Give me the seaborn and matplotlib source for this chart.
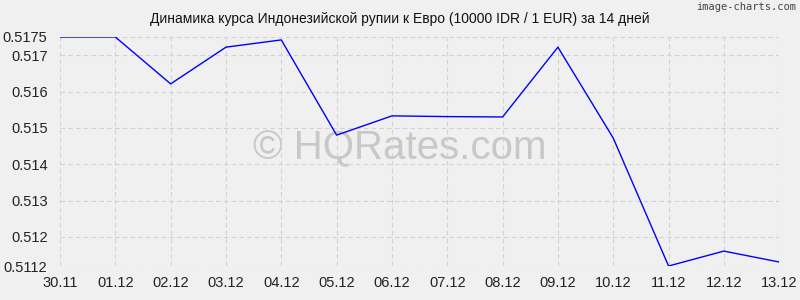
import matplotlib
matplotlib.use("Agg")
import matplotlib.pyplot as plt
import seaborn as sns
import pandas as pd

dates = ["30.11", "01.12", "02.12", "03.12", "04.12", "05.12", "06.12",
         "07.12", "08.12", "09.12", "10.12", "11.12", "12.12", "13.12"]
rates = [0.5175, 0.5175, 0.51621, 0.51722, 0.51742, 0.51480, 0.51533,
         0.51531, 0.51530, 0.51722, 0.51472, 0.5112, 0.51161, 0.51131]
yticks = [0.5112, 0.512, 0.513, 0.514, 0.515, 0.516, 0.517, 0.5175]
ytick_labels = ["0.5112", "0.512", "0.513", "0.514", "0.515", "0.516", "0.517", "0.5175"]
title = "Динамика курса Индонезийской рупии к Евро (10000 IDR / 1 EUR) за 14 дней"

sns.set_theme(style="white")
plt.rcParams['font.family'] = ['Liberation Sans', 'DejaVu Sans']

df = pd.DataFrame({"x": range(len(dates)), "rate": rates})

fig = plt.figure(figsize=(8, 3), dpi=100, facecolor="#f0f0f0")
ax = fig.add_axes([0.075, 0.1133, 0.899, 0.7634])
ax.set_facecolor("#f0f0f0")

sns.lineplot(data=df, x="x", y="rate", ax=ax, color="#0000ff", linewidth=1.0)

ax.set_xlim(0, len(dates) - 1)
ax.set_ylim(min(yticks), max(yticks))
ax.set_xticks(range(len(dates)))
ax.set_xticklabels(dates, fontsize=10.5, color="#222222")
ax.set_yticks(yticks)
ax.set_yticklabels(ytick_labels, fontsize=10.5, color="#222222")
ax.set_xlabel("")
ax.set_ylabel("")
ax.tick_params(axis="y", length=0, pad=9)
ax.tick_params(axis="x", length=0, pad=7)
ax.grid(True, color="#d2d2d2", linestyle=(0, (4, 3)), linewidth=0.8)
for s in ax.spines.values():
    s.set_visible(False)

fig.text(0.5, 0.935, title, ha="center", va="center", fontsize=10, color="#111111")
fig.text(0.995, 0.975, "image-charts.com", ha="right", va="center", fontsize=7.5,
         color="#444444", family=["DejaVu Sans Mono", "DejaVu Sans"])
ax.text(0.5, 0.505, "© HQRates.com", transform=fig.transFigure, ha="center", va="center",
        fontsize=29, color="#c8c8c8", zorder=0)

fig.savefig("out.png", dpi=100, facecolor="#f0f0f0")
